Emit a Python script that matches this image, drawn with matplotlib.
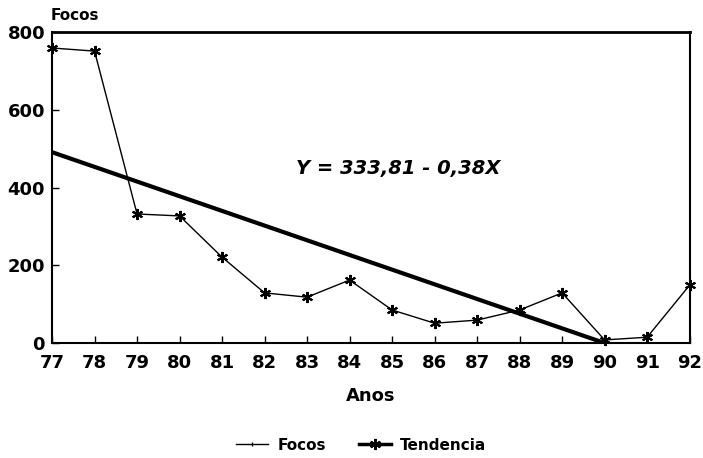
import matplotlib
matplotlib.use("Agg")
import matplotlib.pyplot as plt
from matplotlib.lines import Line2D

years = [77, 78, 79, 80, 81, 82, 83, 84, 85, 86, 87, 88, 89, 90, 91, 92]
focos = [759, 751, 332, 327, 221, 129, 118, 162, 85, 51, 59, 85, 129, 8, 15, 149]
trend_x = [77, 90]
trend_y = [491, 0]
xtick_labels = [str(y) for y in years]
yticks = [0, 200, 400, 600, 800]

plt.rcParams['font.family'] = ['DejaVu Sans']

fig = plt.figure(figsize=(7.03, 4.58), dpi=100)
ax = fig.add_axes([0.074, 0.251, 0.907, 0.679])

star = (6, 2, 0)
ax.plot(years, focos, color='black', lw=1.0, marker=star, ms=8, mew=1.5, clip_on=False)
ax.plot(trend_x, trend_y, color='black', lw=3.0, solid_capstyle='butt')

ax.set_xlim(77, 92)
ax.set_ylim(0, 800)
ax.set_xticks(years)
ax.set_xticklabels(xtick_labels)
ax.set_yticks(yticks)
ax.tick_params(direction='in', length=5, width=1, labelsize=13)
ax.tick_params(axis='x', pad=8)
ax.tick_params(axis='y', pad=5)
for lab in ax.get_xticklabels() + ax.get_yticklabels():
    lab.set_fontweight('bold')
for s in ['left', 'bottom', 'right', 'top']:
    ax.spines[s].set_linewidth(1.5)
ax.spines['top'].set_linewidth(2)

ax.set_xlabel('Anos', fontsize=13, fontweight='bold', labelpad=11)
fig.text(0.107, 0.967, 'Focos', fontsize=11, fontweight='bold', ha='center', va='center')

ax.text(85.14, 448, 'Y = 333,81 - 0,38X', fontsize=14, fontweight='bold', style='italic',
        ha='center', va='center')

h1 = Line2D([], [], color='black', lw=1.0, marker='|', ms=3, markevery=[1])
h2 = Line2D([], [], color='black', lw=2.5, marker=star, ms=8, mew=1.5)
fig.legend([h1, h2], ['Focos', 'Tendencia'], loc='center', bbox_to_anchor=(0.514, 0.028),
           ncol=2, frameon=False, prop={'weight': 'bold', 'size': 11}, handlelength=2.1,
           handletextpad=0.6, columnspacing=2.15)

fig.savefig('out.png', dpi=100)
